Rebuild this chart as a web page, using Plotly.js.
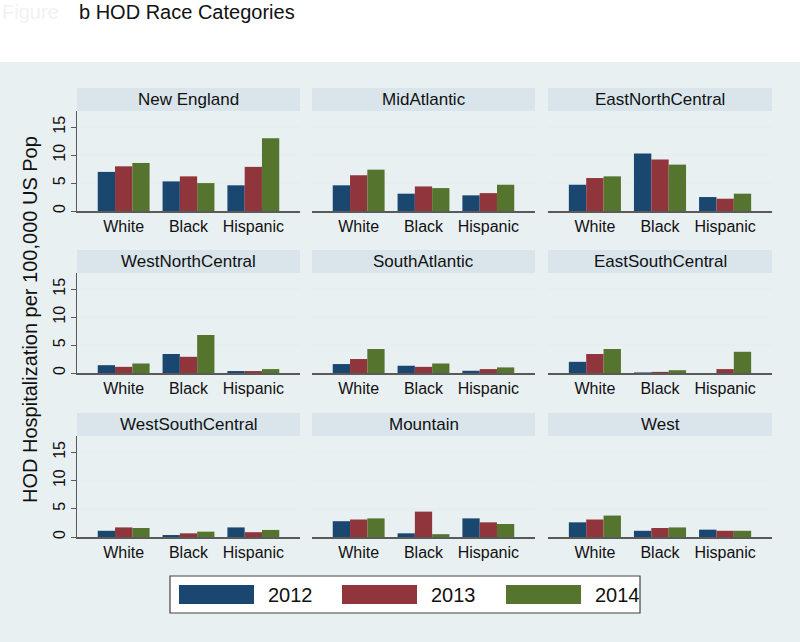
<!DOCTYPE html>
<html><head><meta charset="utf-8">
<script src="https://cdn.plot.ly/plotly-3.0.1.min.js"></script>
<style>html,body{margin:0;padding:0;background:#fff}</style>
</head><body><div id="chart" style="width:800px;height:642px"></div>
<script>
// ---- data ----
const regions = ['New England','MidAtlantic','EastNorthCentral',
                 'WestNorthCentral','SouthAtlantic','EastSouthCentral',
                 'WestSouthCentral','Mountain','West'];
const races = ['White','Black','Hispanic'];
const years = ['2012','2013','2014'];
// values per region, in race order White, Black, Hispanic
const y2012 = [[7.0,5.3,4.6],[4.6,3.1,2.8],[4.7,10.3,2.5],
               [1.4,3.4,0.35],[1.6,1.3,0.4],[2.0,0.1,0],
               [1.1,0.35,1.7],[2.8,0.65,3.3],[2.6,1.1,1.3]];
const y2013 = [[8.0,6.2,7.9],[6.4,4.4,3.2],[5.9,9.2,2.2],
               [1.1,2.9,0.35],[2.5,1.1,0.7],[3.4,0.2,0.7],
               [1.7,0.65,0.85],[3.1,4.5,2.6],[3.1,1.6,1.1]];
const y2014 = [[8.6,5.0,13.0],[7.4,4.1,4.7],[6.2,8.3,3.1],
               [1.7,6.8,0.7],[4.3,1.7,1.0],[4.3,0.5,3.8],
               [1.6,0.95,1.25],[3.3,0.5,2.3],[3.8,1.7,1.1]];
const yTicks = [0,5,10,15];

// ---- styling ----
const seriesVals = [y2012, y2013, y2014];
const colors = ['#1a476f','#90353b','#55752f'];
const W = 800, H = 642;
const colX0 = [77, 312, 548], colX1 = [300, 535, 772];
const stripTop = [88, 250, 413], plotTop = [111, 273, 436], plotBot = [211, 373, 537];
const FONT = 'Liberation Sans, Arial, Helvetica, sans-serif';
const bg = '#e9f0f2', stripCol = '#d9e5eb', gridCol = '#e6eef0';

const traces = [];
const layout = {
  width: W, height: H, margin: {l:0,r:0,t:0,b:0},
  paper_bgcolor: '#ffffff', plot_bgcolor: '#ffffff',
  showlegend: false, barmode: 'group', bargap: 0.2, bargroupgap: 0,
  font: {family: FONT, color: '#111'},
  shapes: [], annotations: []
};
layout.shapes.push({type:'rect', xref:'paper', yref:'paper', x0:0, x1:1, y0:0, y1:1-62/H,
  fillcolor:bg, line:{width:0}, layer:'below'});

regions.forEach((reg, i) => {
  const r = Math.floor(i/3), c = i%3, k = i+1;
  const xa = 'x' + (k===1?'':k), ya = 'y' + (k===1?'':k);
  years.forEach((yr, s) => {
    traces.push({type:'bar', name: yr, x: races, y: seriesVals[s][i],
      xaxis: xa, yaxis: ya, marker:{color: colors[s], line:{width:0}}, hoverinfo:'skip'});
  });
  layout['xaxis' + (k===1?'':k)] = {
    domain: [colX0[c]/W, colX1[c]/W], anchor: ya, type:'category',
    range: [-0.72, 2.72], showgrid:false, zeroline:false,
    showline:true, linecolor:'#5a5a5a', linewidth:1.5, ticks:'',
    tickfont:{size:16, family:FONT, color:'#111'}, fixedrange:true
  };
  layout['yaxis' + (k===1?'':k)] = {
    domain: [1-plotBot[r]/H, 1-plotTop[r]/H], anchor: xa,
    range: [0, 17.9], tickvals: yTicks, ticktext: yTicks.map(String),
    showgrid:true, gridcolor:gridCol, gridwidth:1.5, zeroline:false,
    showline: c===0, linecolor:'#5a5a5a', linewidth:1,
    ticks: c===0 ? 'outside' : '', ticklen:5, tickcolor:'#5a5a5a',
    showticklabels: c===0, tickangle:-90,
    tickfont:{size:16, family:FONT, color:'#111'}, fixedrange:true
  };
  layout.shapes.push({type:'rect', xref:'paper', yref:'paper',
    x0: colX0[c]/W, x1: colX1[c]/W, y0: 1-plotTop[r]/H, y1: 1-stripTop[r]/H,
    fillcolor: stripCol, line:{width:0}, layer:'below'});
  layout.annotations.push({xref:'paper', yref:'paper',
    x: (colX0[c]+colX1[c])/2/W, y: 1-(stripTop[r]+plotTop[r])/2/H,
    text: reg, showarrow:false, xanchor:'center', yanchor:'middle',
    font:{size:17, family:FONT, color:'#111'}});
});

// titles
layout.annotations.push({xref:'paper', yref:'paper', x: 77/W, y: 1-12/H,
  text:'b HOD Race Categories', showarrow:false, xanchor:'left', yanchor:'middle',
  font:{size:20, family:FONT, color:'#111'}});
layout.annotations.push({xref:'paper', yref:'paper', x: 0, y: 1-12/H,
  text:'Figure', showarrow:false, xanchor:'left', yanchor:'middle',
  font:{size:20, family:FONT, color:'#f2f2f2'}});
layout.annotations.push({xref:'paper', yref:'paper', x: 30/W, y: 1-320/H,
  text:'HOD Hospitalization per 100,000 US Pop', showarrow:false, textangle:-90,
  xanchor:'center', yanchor:'middle', font:{size:20, family:FONT, color:'#111'}});

// legend (built from years/colors)
layout.shapes.push({type:'rect', xref:'paper', yref:'paper', x0:170/W, x1:640/W,
  y0:1-613/H, y1:1-576/H, fillcolor:'#ffffff', line:{color:'#444', width:1.2}});
const swX = [179, 342, 506];
years.forEach((yr, s) => {
  layout.shapes.push({type:'rect', xref:'paper', yref:'paper',
    x0: swX[s]/W, x1: (swX[s]+75)/W, y0: 1-604/H, y1: 1-585/H,
    fillcolor: colors[s], line:{width:0}});
  layout.annotations.push({xref:'paper', yref:'paper', x:(swX[s]+87)/W, y:1-595/H,
    text: yr, showarrow:false, xanchor:'left', yanchor:'middle',
    font:{size:20, family:FONT, color:'#111'}});
});

Plotly.newPlot('chart', traces, layout, {displayModeBar:false, staticPlot:true});
</script></body></html>
